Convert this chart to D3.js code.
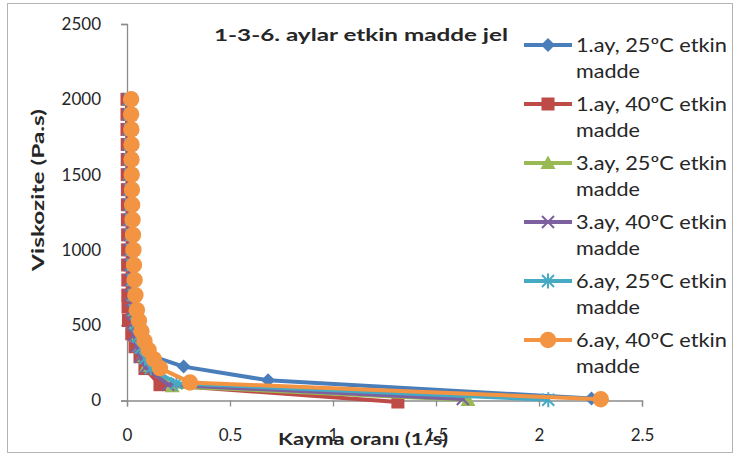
<!DOCTYPE html>
<html>
<head>
<meta charset="utf-8">
<script src="https://cdn.jsdelivr.net/npm/d3@7"></script>
<style>
  html, body { margin: 0; padding: 0; background: #fff; }
  svg { display: block; }
  text { font-family: Lato, "Open Sans", sans-serif; fill: #262626; }
</style>
</head>
<body>
<svg id="chart" width="739" height="459"></svg>
<script>
// Shear rate (1/s) and viscosity (Pa.s) for each storage month / temperature
const viscosity1ay25 = [2000,1900,1800,1700,1600,1500,1400,1300,1200,1100,1000,900,800,700,600,510,430,360,300,225,134,13];
const shear1ay25     = [0.018,0.018,0.019,0.019,0.02,0.021,0.022,0.023,0.024,0.026,0.028,0.03,0.033,0.037,0.042,0.05,0.062,0.08,0.11,0.275,0.685,2.255];

const viscosity1ay40 = [2000,1900,1800,1700,1600,1500,1400,1300,1200,1100,1000,900,800,700,620,531,443,357,291,212,105,-10];
const shear1ay40     = [0.0,0.0,0.0,0.001,0.001,0.001,0.002,0.002,0.002,0.003,0.003,0.003,0.004,0.004,0.005,0.007,0.023,0.039,0.063,0.087,0.16,1.315];

const viscosity3ay25 = [2000,1900,1800,1700,1600,1500,1400,1300,1200,1100,1000,900,800,700,600,510,430,360,295,230,95,3];
const shear3ay25     = [0.012,0.012,0.013,0.013,0.014,0.014,0.015,0.016,0.017,0.018,0.019,0.021,0.023,0.026,0.03,0.035,0.045,0.06,0.075,0.095,0.22,1.655];

const viscosity3ay40 = [2000,1900,1800,1700,1600,1500,1400,1300,1200,1100,1000,900,800,700,600,515,435,360,290,220,105,10];
const shear3ay40     = [0.008,0.008,0.009,0.009,0.01,0.01,0.011,0.011,0.012,0.013,0.014,0.015,0.017,0.019,0.022,0.027,0.035,0.048,0.065,0.09,0.2,1.63];

const viscosity6ay25 = [2000,1900,1800,1700,1600,1500,1400,1300,1200,1100,1000,900,800,700,600,510,425,350,280,215,115,5];
const shear6ay25     = [0.016,0.016,0.017,0.017,0.018,0.018,0.019,0.02,0.021,0.022,0.024,0.026,0.029,0.032,0.037,0.044,0.054,0.068,0.088,0.115,0.24,2.045];

const viscosity6ay40 = [2000,1900,1800,1700,1600,1500,1400,1300,1200,1100,1000,900,800,700,600,530,460,395,335,275,215,120,8];
const shear6ay40     = [0.02,0.02,0.021,0.022,0.022,0.023,0.024,0.025,0.027,0.029,0.031,0.034,0.037,0.041,0.048,0.058,0.07,0.085,0.105,0.13,0.16,0.306,2.30];

const seriesNames = [
  "1.ay, 25ºC etkin", "1.ay, 40ºC etkin", "3.ay, 25ºC etkin",
  "3.ay, 40ºC etkin", "6.ay, 25ºC etkin", "6.ay, 40ºC etkin"
];
const xTicks = [0, 0.5, 1, 1.5, 2, 2.5];
const yTicks = [0, 500, 1000, 1500, 2000, 2500];

const chartTitle = "1-3-6. aylar etkin madde jel";
const xTitle = "Kayma oranı (1/s)";
const yTitle = "Viskozite (Pa.s)";
const legendSecondLine = "madde";

const colors = ["#4a7ebb", "#be4b48", "#98b954", "#7d60a0", "#46aac4", "#f39443"];
const symbols = ["diamond", "square", "triangle", "cross", "asterisk", "circle"];

const series = [
  [shear1ay25, viscosity1ay25], [shear1ay40, viscosity1ay40],
  [shear3ay25, viscosity3ay25], [shear3ay40, viscosity3ay40],
  [shear6ay25, viscosity6ay25], [shear6ay40, viscosity6ay40]
].map(([xs, ys], i) => ({
  name: seriesNames[i], color: colors[i], symbol: symbols[i],
  points: xs.map((x, j) => ({ x, y: ys[j] }))
}));

const svg = d3.select("#chart");

// outer chart frame
svg.append("rect").attr("x", 7.5).attr("y", 3.5).attr("width", 725).attr("height", 449)
  .attr("fill", "#fff").attr("stroke", "#b4b4b4").attr("stroke-width", 1);

const x = d3.scaleLinear().domain([0, 2.5]).range([127, 642]);
const y = d3.scaleLinear().domain([0, 2500]).range([400.5, 24]);

const axisColor = "#8c8c8c";

// y axis
const yAxis = svg.append("g").attr("transform", `translate(${x(0)},0)`)
  .call(d3.axisLeft(y).tickValues(yTicks).tickSize(6).tickPadding(20).tickFormat(d3.format("d")));
yAxis.select(".domain").attr("stroke", axisColor).attr("stroke-width", 1.3);
yAxis.selectAll(".tick line").attr("stroke", axisColor).attr("stroke-width", 1.3);
yAxis.selectAll(".tick text").attr("font-size", 17).attr("fill", "#262626")
  .style("font-family", "Lato, sans-serif");

// x axis
const xAxis = svg.append("g").attr("transform", `translate(0,${y(0)})`)
  .call(d3.axisBottom(x).tickValues(xTicks).tickSize(6).tickPadding(22).tickFormat(d => d));
xAxis.select(".domain").attr("stroke", axisColor).attr("stroke-width", 1.3);
xAxis.selectAll(".tick line").attr("stroke", axisColor).attr("stroke-width", 1.3);
xAxis.selectAll(".tick text").attr("font-size", 17).attr("fill", "#262626")
  .style("font-family", "Lato, sans-serif");

// marker shapes
function marker(sel, symbol, color, cx, cy) {
  const g = sel.append("g").attr("transform", `translate(${cx},${cy})`);
  if (symbol === "diamond") {
    g.append("path").attr("d", "M0,-7L7,0L0,7L-7,0Z").attr("fill", color);
  } else if (symbol === "square") {
    g.append("rect").attr("x", -6.5).attr("y", -6.5).attr("width", 13).attr("height", 13).attr("fill", color);
  } else if (symbol === "triangle") {
    g.append("path").attr("d", "M0,-7.5L7.5,6L-7.5,6Z").attr("fill", color);
  } else if (symbol === "cross") {
    g.append("path").attr("d", "M-6,-6L6,6M-6,6L6,-6")
      .attr("stroke", color).attr("stroke-width", 2);
  } else if (symbol === "asterisk") {
    g.append("path").attr("d", "M-6,-6L6,6M-6,6L6,-6M0,-7.5L0,7.5")
      .attr("stroke", color).attr("stroke-width", 2);
  } else {
    g.append("circle").attr("r", 8.2).attr("fill", color);
  }
}

const line = d3.line().x(d => x(d.x)).y(d => y(d.y));
const plot = svg.append("g");

series.forEach(s => {
  const g = plot.append("g");
  g.append("path").datum(s.points).attr("d", line)
    .attr("fill", "none").attr("stroke", s.color).attr("stroke-width", 4)
    .attr("stroke-linejoin", "round").attr("stroke-linecap", "round");
  s.points.forEach(p => marker(g, s.symbol, s.color, x(p.x), y(p.y)));
});

// chart title
svg.append("text").attr("x", 214).attr("y", 41)
  .attr("font-size", 17).attr("font-weight", "bold")
  .attr("textLength", 294).attr("lengthAdjust", "spacingAndGlyphs")
  .text(chartTitle);

// axis titles
svg.append("text").attr("x", 363).attr("y", 445).attr("text-anchor", "middle")
  .attr("font-size", 17).attr("font-weight", "bold")
  .attr("textLength", 170).attr("lengthAdjust", "spacingAndGlyphs")
  .text(xTitle);

svg.append("text").attr("transform", "translate(44,190) rotate(-90)")
  .attr("text-anchor", "middle").attr("font-size", 17).attr("font-weight", "bold")
  .attr("textLength", 162).attr("lengthAdjust", "spacingAndGlyphs")
  .text(yTitle);

// legend
const legend = svg.append("g");
series.forEach((s, i) => {
  const cy = 45 + i * 59;
  legend.append("line").attr("x1", 524).attr("x2", 572).attr("y1", cy).attr("y2", cy)
    .attr("stroke", s.color).attr("stroke-width", 4);
  marker(legend, s.symbol, s.color, 548, cy);
  legend.append("text").attr("x", 576).attr("y", cy + 6.5)
    .attr("font-size", 19).attr("textLength", 151).attr("lengthAdjust", "spacingAndGlyphs")
    .text(s.name);
  legend.append("text").attr("x", 576).attr("y", cy + 33)
    .attr("font-size", 19).attr("textLength", 64).attr("lengthAdjust", "spacingAndGlyphs")
    .text(legendSecondLine);
});
</script>
</body>
</html>
